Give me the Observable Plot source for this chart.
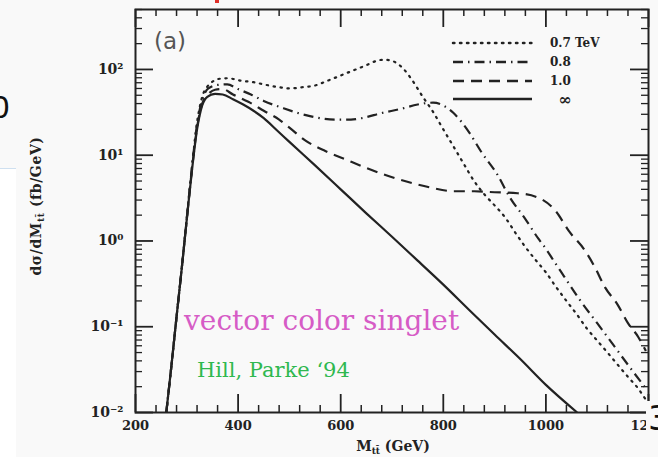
<!DOCTYPE html>
<html>
<head>
<meta charset="utf-8">
<script src="https://cdn.jsdelivr.net/npm/d3@7"></script>
<script src="https://cdn.jsdelivr.net/npm/@observablehq/plot@0.6"></script>
<style>
  html, body { margin: 0; padding: 0; background: #f9f9f9; }
  #wrap { position: relative; width: 658px; height: 457px; overflow: hidden; }
  #wrap svg { position: absolute; left: 0; top: 0; }
  .edge { position: absolute; font-family: "DejaVu Sans", sans-serif; color: #111; }
</style>
</head>
<body>
<div id="wrap"></div>
<script>
// Invariant-mass distribution dσ/dM_tt̄ for a vector colour-singlet resonance
// (fb/GeV), for several resonance masses.

// ∞ (no resonance)
const massInf = [260, 270, 280, 290, 300, 310, 320, 330, 340, 355, 370, 390, 410, 430, 450, 475, 500, 550, 600, 650, 700, 750, 800, 850, 900, 950, 1000, 1061];
const sigmaInf = [0.010, 0.035, 0.13, 0.47, 1.8, 6.6, 20, 38, 48, 52, 51, 45, 39, 33, 27, 19.7, 14.3, 7.6, 4.0, 2.1, 1.12, 0.59, 0.31, 0.158, 0.081, 0.042, 0.021, 0.010];

// 0.7 TeV
const mass07 = [260, 270, 280, 290, 300, 310, 320, 330, 340, 350, 365, 380, 405, 430, 455, 480, 500, 525, 550, 575, 600, 620, 650, 670, 685, 700, 720, 740, 760, 780, 800, 820, 840, 860, 880, 900, 920, 940, 960, 980, 1000, 1020, 1040, 1060, 1080, 1100, 1120, 1140, 1160, 1180, 1195];
const sigma07 = [0.010, 0.035, 0.13, 0.47, 1.9, 7.2, 24, 48, 63, 72, 78, 79, 74, 71, 66, 62, 60, 62, 65, 74, 85, 95, 112, 126, 130, 126, 105, 74, 48, 32, 20, 12.6, 7.9, 5.0, 3.5, 2.6, 1.9, 1.26, 0.85, 0.60, 0.43, 0.29, 0.20, 0.14, 0.095, 0.069, 0.050, 0.036, 0.026, 0.019, 0.014];

// 0.8 TeV
const mass08 = [260, 270, 280, 290, 300, 310, 320, 330, 342, 360, 379, 400, 425, 450, 490, 540, 590, 620, 640, 680, 720, 750, 780, 800, 820, 850, 875, 905, 930, 960, 985, 1000, 1015, 1035, 1065, 1100, 1130, 1160, 1195];
const sigma08 = [0.010, 0.035, 0.13, 0.47, 1.8, 7.1, 23, 44, 60, 66, 67, 59, 51, 43, 35, 28.5, 26, 26, 27, 31, 35, 39, 41, 38, 31, 18.6, 10.7, 6.0, 3.2, 1.8, 1.07, 0.81, 0.59, 0.39, 0.21, 0.11, 0.063, 0.036, 0.019];

// 1.0 TeV
const mass10 = [260, 270, 280, 290, 300, 310, 320, 330, 340, 355, 370, 390, 420, 450, 480, 500, 530, 570, 610, 650, 690, 730, 775, 820, 860, 900, 945, 985, 1020, 1045, 1075, 1095, 1115, 1140, 1160, 1180, 1195];
const sigma10 = [0.010, 0.035, 0.13, 0.47, 1.8, 6.8, 21, 40, 50, 58, 59, 51, 42, 33, 26, 21, 15, 11.2, 8.9, 7.1, 5.8, 4.9, 4.2, 3.8, 3.8, 3.7, 3.6, 3.2, 2.2, 1.3, 0.79, 0.50, 0.29, 0.18, 0.11, 0.076, 0.052];

// Axis ticks and labels
const xTicks = [200, 400, 600, 800, 1000, 1200];
const xTickLabels = ["200", "400", "600", "800", "1000", "1200"];
const yTicks = [0.01, 0.1, 1, 10, 100];
const yTickLabels = ["10⁻²", "10⁻¹", "10⁰", "10¹", "10²"];

// Legend entries
const legendLabels = ["0.7 TeV", "0.8", "1.0", "∞"];

const series = [
  {label: legendLabels[0], mass: mass07, sigma: sigma07, dash: "1.4,5.6", width: 2.2, cap: "round"},
  {label: legendLabels[1], mass: mass08, sigma: sigma08, dash: "10,5,1.5,5", width: 2.2, cap: "butt"},
  {label: legendLabels[2], mass: mass10, sigma: sigma10, dash: "11,7", width: 2.2, cap: "butt"},
  {label: legendLabels[3], mass: massInf, sigma: sigmaInf, dash: null, width: 2.2, cap: "butt"}
];

const W = 658, H = 457;
const mL = 135, mR = 10, mT = 9, mB = 45;
const frameW = W - mL - mR, frameH = H - mT - mB;
const ink = "#222";

// minor tick positions: every 40 GeV on x, 2..9 × decade on y
const xMinor = d3.range(200, 1201, 40).filter(v => v % 200 !== 0);
const yMinor = [];
for (const dec of yTicks) for (let m = 2; m <= 9; m++) if (m * dec <= 500) yMinor.push(m * dec);

const majLen = 18, minLen = 7;

const lineMarks = series.map(s => Plot.line(
  s.mass.map((m, i) => ({m, v: s.sigma[i]})),
  {x: "m", y: "v", stroke: ink, strokeWidth: s.width, strokeDasharray: s.dash,
   strokeLinecap: s.cap, curve: "monotone-x", clip: true}
));

const chart = Plot.plot({
  width: W, height: H,
  marginLeft: mL, marginRight: mR, marginTop: mT, marginBottom: mB,
  style: {background: "transparent", fontFamily: "'DejaVu Serif', serif", fontSize: "13px", fontWeight: "bold", color: "#222"},
  x: {domain: [200, 1200]},
  y: {type: "log", domain: [0.01, 500]},
  marks: [
    // inward ticks on all four sides
    Plot.tickX(xTicks, {x: d => d, stroke: ink, strokeWidth: 1.8, insetTop: frameH - majLen}),
    Plot.tickX(xTicks, {x: d => d, stroke: ink, strokeWidth: 1.8, insetBottom: frameH - majLen}),
    Plot.tickX(xMinor, {x: d => d, stroke: ink, strokeWidth: 1.5, insetTop: frameH - minLen}),
    Plot.tickX(xMinor, {x: d => d, stroke: ink, strokeWidth: 1.5, insetBottom: frameH - minLen}),
    Plot.tickY(yTicks, {y: d => d, stroke: ink, strokeWidth: 1.8, insetRight: frameW - majLen}),
    Plot.tickY(yTicks, {y: d => d, stroke: ink, strokeWidth: 1.8, insetLeft: frameW - majLen}),
    Plot.tickY(yMinor, {y: d => d, stroke: ink, strokeWidth: 1.3, insetRight: frameW - minLen}),
    Plot.tickY(yMinor, {y: d => d, stroke: ink, strokeWidth: 1.3, insetLeft: frameW - minLen}),
    Plot.axisX({ticks: xTicks, tickSize: 0, tickPadding: 8, tickFormat: d => xTickLabels[xTicks.indexOf(d)], label: null}),
    Plot.axisY({ticks: yTicks, tickSize: 0, tickPadding: 12, tickFormat: d => yTickLabels[yTicks.indexOf(d)], label: null, fontSize: 14}),
    ...lineMarks,
    Plot.frame({stroke: ink, strokeWidth: 2})
  ]
});

const svg = d3.select(chart);

// helper: text that does not inherit the chart's anchor/weight defaults
function addText(x, y, opts) {
  return svg.append("text")
    .attr("x", x).attr("y", y)
    .attr("text-anchor", opts.anchor || "start")
    .attr("font-family", opts.family || "'DejaVu Serif', serif")
    .attr("font-weight", opts.weight || "normal")
    .attr("font-size", opts.size)
    .attr("fill", opts.fill || ink);
}

// axis titles with subscripts
const yTitle = svg.append("text")
  .attr("transform", "translate(41,206) rotate(-90)")
  .attr("text-anchor", "middle")
  .attr("font-family", "'DejaVu Serif', serif").attr("font-weight", "bold")
  .attr("font-size", 14).attr("letter-spacing", 0.6).attr("fill", ink);
yTitle.append("tspan").text("dσ/dM");
yTitle.append("tspan").attr("font-size", 9).attr("dy", 3).text("tt̄");
yTitle.append("tspan").attr("dy", -3).text(" (fb/GeV)");

const xTitle = addText(393, 451, {anchor: "middle", weight: "bold", size: 14});
xTitle.append("tspan").text("M");
xTitle.append("tspan").attr("font-size", 9).attr("dy", 3).text("tt̄");
xTitle.append("tspan").attr("dy", -3).text(" (GeV)");

// panel tag
addText(154, 49, {family: "'DejaVu Sans', sans-serif", size: 23, fill: "#555"}).text("(a)");

// legend
const legY = [43, 62, 81, 99];
series.forEach((s, i) => {
  svg.append("line").attr("x1", 453).attr("x2", 532).attr("y1", legY[i]).attr("y2", legY[i])
    .attr("stroke", ink).attr("stroke-width", s.width + 0.3)
    .attr("stroke-dasharray", s.dash).attr("stroke-linecap", s.cap);
  const inf = s.label === "∞";
  addText(inf ? 565 : 550, legY[i], {anchor: inf ? "middle" : "start", weight: "bold", size: inf ? 16 : 12})
    .attr("dy", "0.35em").text(s.label);
});

// model annotation
addText(184, 330, {size: 28, fill: "#d65cc6"}).text("vector color singlet");
addText(197, 377, {size: 21, fill: "#2fb84f"}).text("Hill, Parke ‘94");

const wrap = document.getElementById("wrap");

// surrounding page fragments
const strip = document.createElement("div");
strip.style.cssText = "position:absolute;left:0;top:168px;width:16px;height:289px;background:#ffffff;border-top:1px solid #cfe0f0;";
wrap.appendChild(strip);

wrap.appendChild(chart);

const zero = document.createElement("div");
zero.className = "edge";
zero.style.cssText += "left:-9px;top:93px;font-size:30px;line-height:1;";
zero.textContent = "0";
wrap.appendChild(zero);

const three = document.createElement("div");
three.className = "edge";
three.style.cssText += "left:646px;top:401px;font-size:34px;line-height:1;background:#f9f9f9;padding-left:2px;";
three.textContent = "3";
wrap.appendChild(three);

const red = document.createElement("div");
red.style.cssText = "position:absolute;left:215px;top:0;width:4px;height:3px;background:#e0302a;";
wrap.appendChild(red);
</script>
</body>
</html>
